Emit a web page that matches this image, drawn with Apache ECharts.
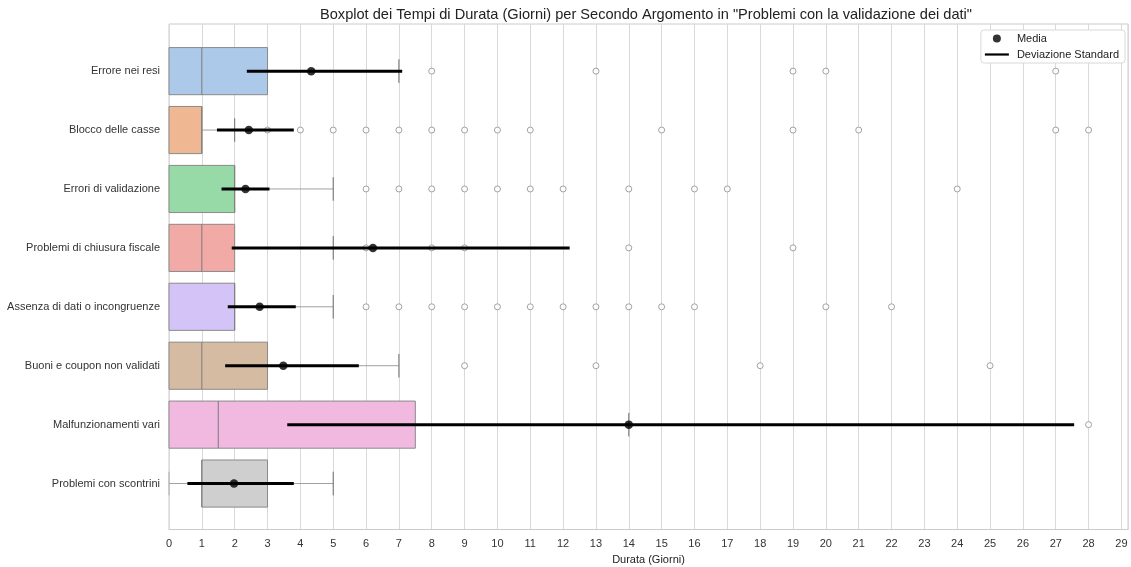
<!DOCTYPE html>
<html>
<head>
<meta charset="utf-8">
<script src="https://cdn.jsdelivr.net/npm/echarts@6/dist/echarts.min.js"></script>
<style>
  html, body { margin: 0; padding: 0; background: #ffffff; }
  #chart { width: 1131px; height: 567px; }
</style>
</head>
<body>
<div id="chart"></div>
<script>
// Categories (top to bottom)
const categories = [
  'Errore nei resi',
  'Blocco delle casse',
  'Errori di validazione',
  'Problemi di chiusura fiscale',
  'Assenza di dati o incongruenze',
  'Buoni e coupon non validati',
  'Malfunzionamenti vari',
  'Problemi con scontrini'
];

// Box statistics per category (days)
const whiskerLow  = [0, 0, 0, 0, 0, 0, 0, 0];
const q1          = [0, 0, 0, 0, 0, 0, 0, 1];
const median      = [1, 1, 2, 1, 2, 1, 1.5, 1];
const q3          = [3, 1, 2, 2, 2, 3, 7.5, 3];
const whiskerHigh = [7, 2, 5, 5, 5, 7, 14, 5];

// Outliers per category
const outliers = [
  [8, 13, 19, 20, 27],
  [3, 4, 5, 6, 7, 8, 9, 10, 11, 15, 19, 21, 27, 28],
  [6, 7, 8, 9, 10, 11, 12, 14, 16, 17, 24],
  [6, 8, 9, 14, 19],
  [6, 7, 8, 9, 10, 11, 12, 13, 14, 15, 16, 20, 22],
  [9, 13, 18, 25],
  [28],
  []
];

// Mean and standard-deviation bar ends
const means  = [4.33, 2.43, 2.33, 6.21, 2.76, 3.48, 14.0, 1.98];
const sdLow  = [2.37, 1.46, 1.60, 1.91, 1.79, 1.71, 3.60, 0.56];
const sdHigh = [7.10, 3.80, 3.06, 12.20, 3.86, 5.78, 27.56, 3.80];

// X tick values
const xTicks = [0, 1, 2, 3, 4, 5, 6, 7, 8, 9, 10, 11, 12, 13, 14, 15, 16, 17, 18, 19, 20, 21, 22, 23, 24, 25, 26, 27, 28, 29];

const boxColors = ['#acc9ea', '#efb792', '#98daa7', '#f2aaa7', '#d3c3f6', '#d6bba3', '#f1b9e0', '#cfcfcf'];

const FONT = '"Liberation Sans", Arial, Helvetica, sans-serif';
const BOX_HALF = 0.4;
const CAP_HALF = 0.2;
const EDGE = '#8a8a8a';

const boxData = categories.map((c, i) => [whiskerLow[i], q1[i], median[i], q3[i], whiskerHigh[i], i]);
const outlierData = [];
outliers.forEach((list, i) => list.forEach(v => outlierData.push([v, i])));
const meanData = means.map((m, i) => [m, i]);
const sdData = means.map((m, i) => [sdLow[i], sdHigh[i], i]);

// Box, median, whiskers and caps for one category row
function renderBox(params, api) {
  const row = api.value(5);
  const lo = api.value(0), a = api.value(1), med = api.value(2), b = api.value(3), hi = api.value(4);
  const pTop = api.coord([a, row - BOX_HALF]);
  const pBot = api.coord([b, row + BOX_HALF]);
  const yMid = api.coord([0, row])[1];
  const capTop = api.coord([0, row - CAP_HALF])[1];
  const capBot = api.coord([0, row + CAP_HALF])[1];
  const children = [];
  const xLo = api.coord([lo, row])[0];
  const xHi = api.coord([hi, row])[0];
  const xA = pTop[0], xB = pBot[0];
  if (hi > b) {
    children.push({ type: 'line', shape: { x1: xB, y1: yMid, x2: xHi, y2: yMid }, style: { stroke: '#a0a0a0', lineWidth: 1 } });
    children.push({ type: 'line', shape: { x1: xHi, y1: capTop, x2: xHi, y2: capBot }, style: { stroke: '#6e6e6e', lineWidth: 1 } });
  }
  if (lo < a) {
    children.push({ type: 'line', shape: { x1: xLo, y1: yMid, x2: xA, y2: yMid }, style: { stroke: '#a0a0a0', lineWidth: 1 } });
    children.push({ type: 'line', shape: { x1: xLo, y1: capTop, x2: xLo, y2: capBot }, style: { stroke: '#b0b0b0', lineWidth: 1 } });
  }
  children.push({
    type: 'rect',
    shape: { x: xA, y: pTop[1], width: xB - xA, height: pBot[1] - pTop[1] },
    style: { fill: boxColors[row], stroke: EDGE, lineWidth: 1 }
  });
  const xM = api.coord([med, row])[0];
  children.push({ type: 'line', shape: { x1: xM, y1: pTop[1], x2: xM, y2: pBot[1] }, style: { stroke: '#7a7a7a', lineWidth: 1 } });
  return { type: 'group', children };
}

// Horizontal standard-deviation bar
function renderSd(params, api) {
  const row = api.value(2);
  const p1 = api.coord([api.value(0), row]);
  const p2 = api.coord([api.value(1), row]);
  return { type: 'line', shape: { x1: p1[0], y1: p1[1], x2: p2[0], y2: p2[1] }, style: { stroke: '#000', lineWidth: 3 } };
}

const chart = echarts.init(document.getElementById('chart'), null, { renderer: 'canvas' });
chart.setOption({
  backgroundColor: '#ffffff',
  animation: false,
  textStyle: { fontFamily: FONT },
  title: {
    text: 'Boxplot dei Tempi di Durata (Giorni) per Secondo Argomento in "Problemi con la validazione dei dati"',
    left: 641,
    textAlign: 'center',
    top: 2,
    textStyle: { fontFamily: FONT, fontSize: 14.6, fontWeight: 'normal', color: '#222' }
  },
  legend: {
    orient: 'vertical',
    right: 6,
    top: 30,
    itemWidth: 24,
    itemHeight: 8,
    itemGap: 5,
    padding: [3, 6, 3, 4],
    backgroundColor: '#ffffff',
    borderColor: '#d8d8d8',
    borderWidth: 1,
    borderRadius: 3,
    textStyle: { fontFamily: FONT, fontSize: 11, color: '#222', padding: [0, 0, 0, 3] },
    data: [
      { name: 'Media', icon: 'circle' },
      { name: 'Deviazione Standard', icon: 'path://M0,0H24V2.2H0Z' }
    ]
  },
  grid: {
    left: 169, right: 3, top: 24, bottom: 37.5,
    containLabel: false,
    outerBoundsMode: 'none',
    show: true, borderColor: '#cccccc', borderWidth: 1, backgroundColor: 'transparent'
  },
  xAxis: {
    type: 'value',
    min: 0,
    max: 29.2,
    interval: 1,
    name: 'Durata (Giorni)',
    nameLocation: 'middle',
    nameGap: 20,
    nameTextStyle: { fontFamily: FONT, fontSize: 11, color: '#222' },
    axisLine: { show: true, onZero: false, lineStyle: { color: '#cccccc' } },
    axisTick: { show: false },
    axisLabel: {
      customValues: xTicks,
      formatter: v => String(v),
      margin: 9,
      fontFamily: FONT, fontSize: 11, color: '#333'
    },
    splitLine: { show: true, lineStyle: { color: '#d9d9d9', width: 1 } }
  },
  yAxis: {
    type: 'value',
    inverse: true,
    min: -0.8,
    max: 7.78,
    axisLine: { show: false, onZero: false },
    axisTick: { show: false },
    splitLine: { show: false },
    axisLabel: {
      customValues: categories.map((c, i) => i),
      formatter: v => categories[Math.round(v)],
      margin: 9,
      fontFamily: FONT, fontSize: 11, color: '#333'
    }
  },
  series: [
    {
      type: 'custom',
      name: 'box',
      renderItem: renderBox,
      data: boxData,
      encode: { x: [0, 1, 2, 3, 4], y: 5 },
      z: 2
    },
    {
      type: 'scatter',
      name: 'outliers',
      data: outlierData,
      symbol: 'circle',
      symbolSize: 6,
      itemStyle: { color: '#ffffff', borderColor: '#8c8c8c', borderWidth: 1 },
      z: 3
    },
    {
      type: 'custom',
      name: 'Deviazione Standard',
      renderItem: renderSd,
      data: sdData,
      encode: { x: [0, 1], y: 2 },
      itemStyle: { color: '#000' },
      z: 4
    },
    {
      type: 'scatter',
      name: 'Media',
      data: meanData,
      symbol: 'circle',
      symbolSize: 8.5,
      itemStyle: { color: '#000' },
      z: 5
    }
  ]
});
</script>
</body>
</html>
